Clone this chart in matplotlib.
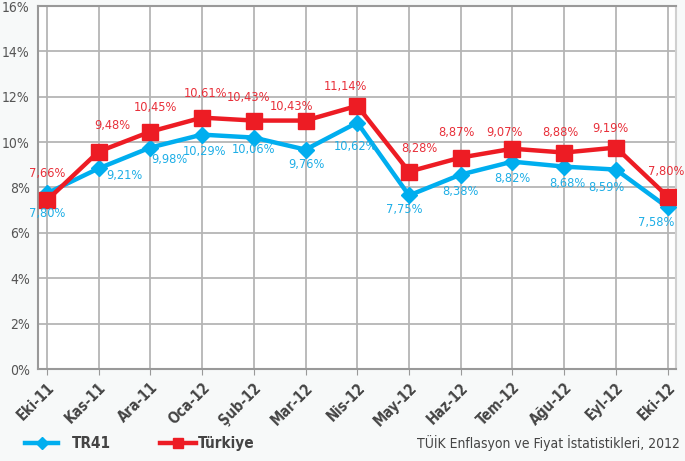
import matplotlib
matplotlib.use("Agg")
import matplotlib.pyplot as plt
from matplotlib.lines import Line2D
from matplotlib.transforms import ScaledTranslation

# Veriler
aylar = ["Eki-11", "Kas-11", "Ara-11", "Oca-12", "Şub-12", "Mar-12", "Nis-12",
         "May-12", "Haz-12", "Tem-12", "Ağu-12", "Eyl-12", "Eki-12"]

# noktalarin grafikteki yerleri (okunan)
tr41 = [7.74, 8.84, 9.76, 10.33, 10.20, 9.67, 10.86, 7.65, 8.57, 9.14, 8.92, 8.79, 7.12]
turkiye = [7.43, 9.58, 10.46, 11.08, 10.95, 10.95, 11.60, 8.70, 9.32, 9.71, 9.54, 9.76, 7.60]

# etiketlerde yazan degerler
tr41_etiket = [7.80, 9.21, 9.98, 10.29, 10.06, 9.76, 10.62, 7.75, 8.38, 8.82, 8.68, 8.59, 7.58]
turkiye_etiket = [7.66, 9.48, 10.45, 10.61, 10.43, 10.43, 11.14, 8.28, 8.87, 9.07, 8.88, 9.19, 7.80]

y_ticks = [0, 2, 4, 6, 8, 10, 12, 14, 16]

# etiket kaydirmalari (piksel)
tr41_off = [(0, -20), (26, -7), (19, -12), (3, -17), (0, -12), (1, -15), (-2, -24),
            (-5, -14), (0, -17), (0, -17), (3, -17), (-10, -18), (-12, -15)]
turkiye_off = [(0, 27), (14, 26), (5, 24), (4, 24), (-5, 23), (-14, 14), (-12, 19),
               (10, 23), (-4, 25), (-8, 16), (-4, 20), (-6, 19), (-2, 25)]

MAVI = "#00aeef"
KIRMIZI = "#ed1c24"
GRI = "#444444"

plt.rcParams["font.family"] = ["DejaVu Sans"]
plt.rcParams["font.stretch"] = "condensed"

W, H = 685, 461
fig = plt.figure(figsize=(6.85, 4.61), dpi=100, facecolor="#f7f9f9")
ax = fig.add_axes([38 / W, 1 - 369 / H, (676 - 38) / W, (369 - 6) / H])
ax.set_facecolor("white")

x = list(range(len(aylar)))

ax.plot(x, tr41, color=MAVI, lw=3.2, marker="D", ms=8, zorder=3)
ax.plot(x, turkiye, color=KIRMIZI, lw=3.2, marker="s", ms=11.5, zorder=4)

for i in x:
    ax.annotate(f"{turkiye_etiket[i]:.2f}%".replace(".", ","), (i, turkiye[i]),
                xytext=turkiye_off[i], textcoords="offset pixels",
                ha="center", va="center", color="#e8303a", fontsize=9.2, zorder=5)
    ax.annotate(f"{tr41_etiket[i]:.2f}%".replace(".", ","), (i, tr41[i]),
                xytext=tr41_off[i], textcoords="offset pixels",
                ha="center", va="center", color="#1eaee6", fontsize=9.2, zorder=5)

ax.set_xlim(-0.17, 12.16)
ax.set_ylim(0, 16)
ax.set_yticks(y_ticks)
ax.set_yticklabels([f"{v}%" for v in y_ticks], color="#555555", fontsize=10)
ax.set_xticks(x)
ax.set_xticklabels(aylar, rotation=45, ha="right", rotation_mode="anchor",
                   fontsize=10.5, fontweight="bold", color=GRI)
kay = ScaledTranslation(17 / 100, -3 / 100, fig.dpi_scale_trans)
for lbl in ax.get_xticklabels():
    lbl.set_transform(lbl.get_transform() + kay)
ax.get_yticklabels()[-1].set_transform(ax.get_yticklabels()[-1].get_transform()
                                       + ScaledTranslation(0, -4 / 100, fig.dpi_scale_trans))

ax.tick_params(axis="y", length=0, pad=6)
ax.tick_params(axis="x", length=4, color="#999999", pad=4)

ax.grid(True, color="#b5b5b5", lw=1.3)
ax.set_axisbelow(True)
for s in ["left", "bottom", "top"]:
    ax.spines[s].set_color("#999999")
    ax.spines[s].set_linewidth(1.5)
ax.spines["right"].set_color("#d0d0d0")
ax.spines["right"].set_linewidth(1.5)

# lejant (elle)
ly = 1 - 443 / H
fig.add_artist(Line2D([25 / W, 58 / W], [ly, ly], color=MAVI, lw=3.2))
fig.add_artist(Line2D([42 / W], [ly], color=MAVI, marker="D", ms=6))
fig.text(72 / W, ly, "TR41", ha="left", va="center", fontsize=11,
         fontweight="bold", color=GRI)
fig.add_artist(Line2D([160 / W, 196 / W], [ly, ly], color=KIRMIZI, lw=3.2))
fig.add_artist(Line2D([178 / W], [ly], color=KIRMIZI, marker="s", ms=7))
fig.text(198 / W, ly, "Türkiye", ha="left", va="center", fontsize=11,
         fontweight="bold", color=GRI)

fig.text(680 / W, ly, "TÜİK Enflasyon ve Fiyat İstatistikleri, 2012",
         ha="right", va="center", fontsize=10, color=GRI)

fig.savefig("out.png", dpi=100, facecolor=fig.get_facecolor())
